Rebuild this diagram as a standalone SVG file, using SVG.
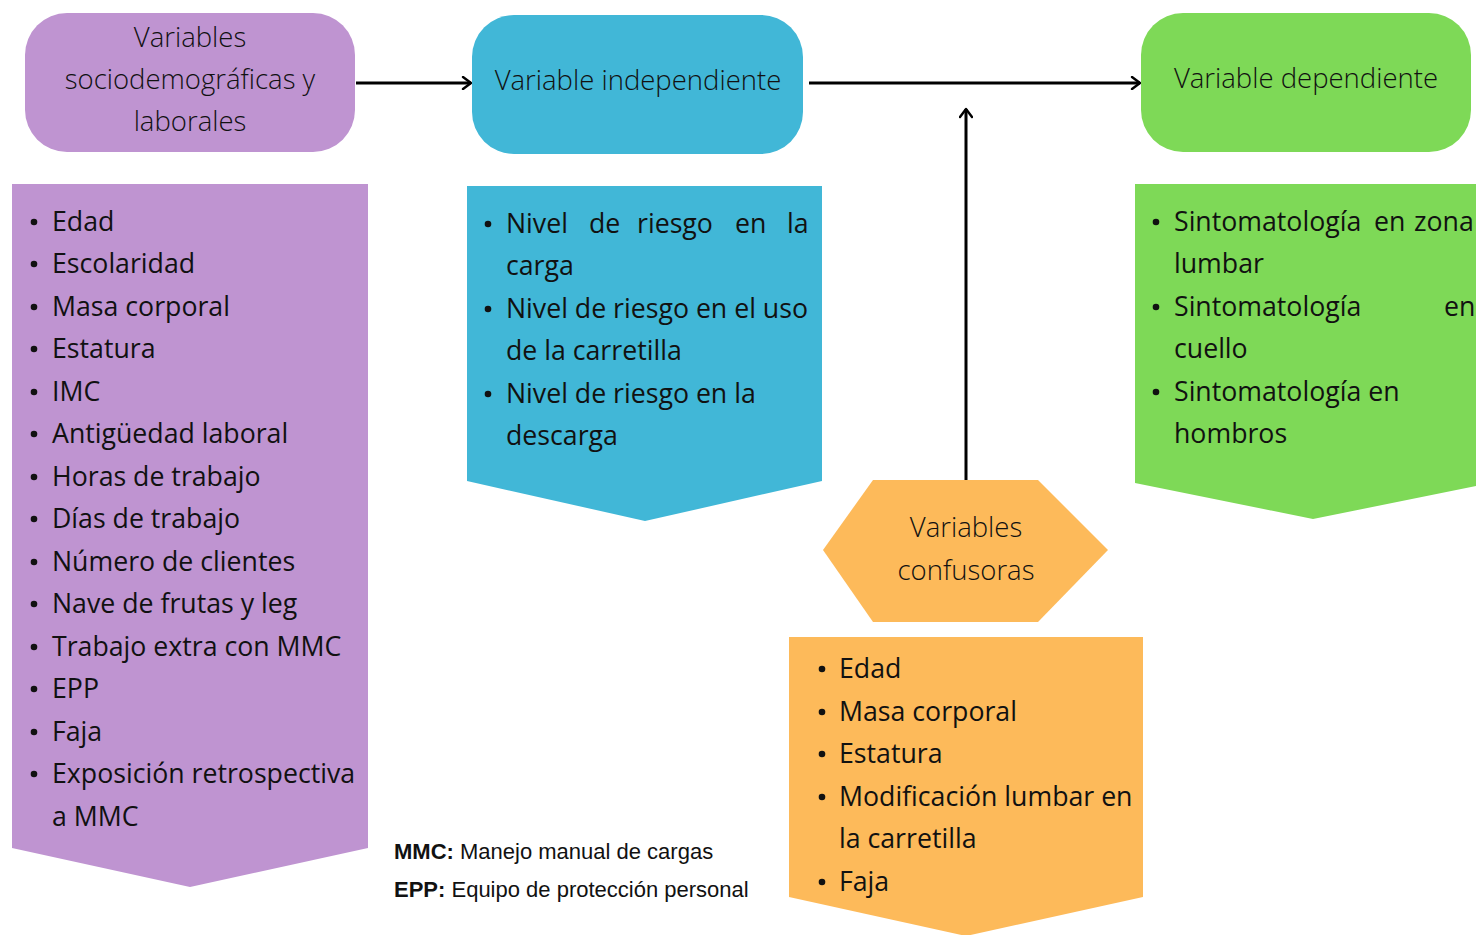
<svg xmlns="http://www.w3.org/2000/svg" width="1476" height="935" viewBox="0 0 1476 935">
  <defs>
    <marker id="arrow" viewBox="0 0 12 14" refX="10" refY="7" markerWidth="12" markerHeight="14" markerUnits="userSpaceOnUse" orient="auto">
      <path d="M2,1 L10,7 L2,13" fill="none" stroke="#000" stroke-width="2.4" stroke-linecap="round" stroke-linejoin="round"/>
    </marker>
  </defs>
  <style>
    .purple { fill: #BF94D1; }
    .blue { fill: #41B7D7; }
    .green { fill: #7ED957; }
    .orange { fill: #FDBA5A; }
    .title { font-family: "Open Sans", "Liberation Sans", sans-serif; font-weight: 300; font-size: 27.5px; fill: #111; text-anchor: middle; }
    .item { font-family: "Open Sans", "Liberation Sans", sans-serif; font-size: 26.7px; fill: #111; }
    .dot { fill: #111; }
    .legend { font-family: "Liberation Sans", Arial, sans-serif; font-size: 22px; fill: #111; }
    .legend .b { font-weight: bold; }
    .link { fill: none; stroke: #000; stroke-width: 3; }
  </style>
  <rect width="1476" height="935" fill="#fff"/>

  <!-- connectors -->
  <g id="connectors">
    <line class="link" x1="356" y1="83" x2="471" y2="83" marker-end="url(#arrow)"/>
    <line class="link" x1="809" y1="83" x2="1140" y2="83" marker-end="url(#arrow)"/>
    <line class="link" x1="966" y1="480" x2="966" y2="109" marker-end="url(#arrow)"/>
  </g>

  <!-- sociodemographic and work variables -->
  <g id="node-sociodemograficas">
    <rect class="purple" x="25" y="13" width="330" height="139" rx="42"/>
    <text class="title" x="190" y="47">Variables</text>
    <text class="title" x="190" y="89">sociodemográficas y</text>
    <text class="title" x="190" y="131">laborales</text>
  </g>
  <g id="list-sociodemograficas">
    <polygon class="purple" points="12,184 368,184 368,848 190,887 12,848"/>
    <g class="dot">
      <circle cx="34" cy="222" r="3.3"/><circle cx="34" cy="264" r="3.3"/><circle cx="34" cy="307" r="3.3"/>
      <circle cx="34" cy="349" r="3.3"/><circle cx="34" cy="392" r="3.3"/><circle cx="34" cy="434" r="3.3"/>
      <circle cx="34" cy="477" r="3.3"/><circle cx="34" cy="519" r="3.3"/><circle cx="34" cy="562" r="3.3"/>
      <circle cx="34" cy="604" r="3.3"/><circle cx="34" cy="647" r="3.3"/><circle cx="34" cy="689" r="3.3"/>
      <circle cx="34" cy="732" r="3.3"/><circle cx="34" cy="774" r="3.3"/>
    </g>
    <text class="item" x="52" y="231">Edad</text>
    <text class="item" x="52" y="273">Escolaridad</text>
    <text class="item" x="52" y="316">Masa corporal</text>
    <text class="item" x="52" y="358">Estatura</text>
    <text class="item" x="52" y="401">IMC</text>
    <text class="item" x="52" y="443">Antigüedad laboral</text>
    <text class="item" x="52" y="486">Horas de trabajo</text>
    <text class="item" x="52" y="528">Días de trabajo</text>
    <text class="item" x="52" y="571">Número de clientes</text>
    <text class="item" x="52" y="613">Nave de frutas y leg</text>
    <text class="item" x="52" y="656">Trabajo extra con MMC</text>
    <text class="item" x="52" y="698">EPP</text>
    <text class="item" x="52" y="741">Faja</text>
    <text class="item" x="52" y="783">Exposición retrospectiva</text>
    <text class="item" x="52" y="826">a MMC</text>
  </g>

  <!-- independent variable -->
  <g id="node-independiente">
    <rect class="blue" x="472" y="15" width="331" height="139" rx="42"/>
    <text class="title" x="638" y="90">Variable independiente</text>
  </g>
  <g id="list-independiente">
    <polygon class="blue" points="467,186 822,186 822,481 645,521 467,481"/>
    <g class="dot">
      <circle cx="488" cy="224" r="3.3"/><circle cx="488" cy="309" r="3.3"/><circle cx="488" cy="394" r="3.3"/>
    </g>
    <!-- justified first line: words placed individually -->
    <text class="item" y="233"><tspan x="506">Nivel</tspan><tspan x="589">de</tspan><tspan x="637">riesgo</tspan><tspan x="735">en</tspan><tspan x="787">la</tspan></text>
    <text class="item" x="506" y="275">carga</text>
    <text class="item" x="506" y="318">Nivel de riesgo en el uso</text>
    <text class="item" x="506" y="360">de la carretilla</text>
    <text class="item" x="506" y="403">Nivel de riesgo en la</text>
    <text class="item" x="506" y="445">descarga</text>
  </g>

  <!-- dependent variable -->
  <g id="node-dependiente">
    <rect class="green" x="1141" y="13" width="330" height="139" rx="42"/>
    <text class="title" x="1306" y="88">Variable dependiente</text>
  </g>
  <g id="list-dependiente">
    <polygon class="green" points="1135,184 1491,184 1491,483 1313,519 1135,483"/>
    <g class="dot">
      <circle cx="1156" cy="222" r="3.3"/><circle cx="1156" cy="307" r="3.3"/><circle cx="1156" cy="392" r="3.3"/>
    </g>
    <text class="item" y="231"><tspan x="1174">Sintomatología</tspan><tspan x="1374">en</tspan><tspan x="1414">zona</tspan></text>
    <text class="item" x="1174" y="273">lumbar</text>
    <text class="item" x="1174" y="316">Sintomatología</text>
    <text class="item" x="1444" y="316">en</text>
    <text class="item" x="1174" y="358">cuello</text>
    <text class="item" x="1174" y="401">Sintomatología en</text>
    <text class="item" x="1174" y="443">hombros</text>
  </g>

  <!-- confounding variables -->
  <g id="node-confusoras">
    <polygon class="orange" points="823,550 873,480 1038,480 1108,550 1038,622 873,622"/>
    <text class="title" x="966" y="537">Variables</text>
    <text class="title" x="966" y="580">confusoras</text>
  </g>
  <g id="list-confusoras">
    <polygon class="orange" points="789,637 1143,637 1143,897 966,936 789,897"/>
    <g class="dot">
      <circle cx="822" cy="669" r="3.3"/><circle cx="822" cy="712" r="3.3"/><circle cx="822" cy="754" r="3.3"/>
      <circle cx="822" cy="797" r="3.3"/><circle cx="822" cy="882" r="3.3"/>
    </g>
    <text class="item" x="839" y="678">Edad</text>
    <text class="item" x="839" y="721">Masa corporal</text>
    <text class="item" x="839" y="763">Estatura</text>
    <text class="item" x="839" y="806">Modificación lumbar en</text>
    <text class="item" x="839" y="848">la carretilla</text>
    <text class="item" x="839" y="891">Faja</text>
  </g>

  <!-- abbreviations -->
  <g id="legend" class="legend">
    <text x="394" y="859"><tspan class="b">MMC:</tspan> Manejo manual de cargas</text>
    <text x="394" y="897"><tspan class="b">EPP:</tspan> Equipo de protección personal</text>
  </g>
</svg>
